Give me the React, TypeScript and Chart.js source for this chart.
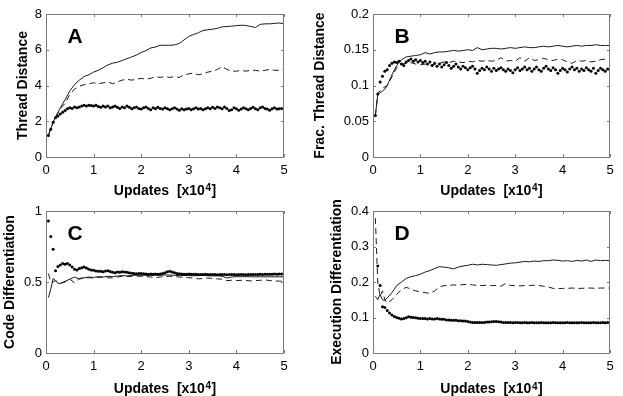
import React, { useEffect, useRef } from "react";
import { Chart, registerables } from "chart.js";

Chart.register(...registerables);

const FONT = "'Liberation Sans', Arial, Helvetica, sans-serif";

// x positions (in units of 10^4 updates)
const LINE_X = [0.05, 0.1, 0.15, 0.2, 0.25, 0.3, 0.4, 0.5, 0.6, 0.7, 0.8, 0.9, 1.0, 1.1, 1.2, 1.3, 1.4, 1.5, 1.6, 1.7, 1.8, 1.9, 2.0, 2.1, 2.2, 2.3, 2.4, 2.5, 2.6, 2.7, 2.8, 2.9, 3.0, 3.1, 3.2, 3.3, 3.4, 3.5, 3.6, 3.7, 3.8, 3.9, 4.0, 4.1, 4.2, 4.3, 4.4, 4.5, 4.6, 4.7, 4.8, 4.9, 5.0];
const DOT_X = [0.05, 0.1, 0.15, 0.2, 0.25, 0.3, 0.35, 0.4, 0.45, 0.5, 0.55, 0.6, 0.65, 0.7, 0.75, 0.8, 0.85, 0.9, 0.95, 1.0, 1.05, 1.1, 1.15, 1.2, 1.25, 1.3, 1.35, 1.4, 1.45, 1.5, 1.55, 1.6, 1.65, 1.7, 1.75, 1.8, 1.85, 1.9, 1.95, 2.0, 2.05, 2.1, 2.15, 2.2, 2.25, 2.3, 2.35, 2.4, 2.45, 2.5, 2.55, 2.6, 2.65, 2.7, 2.75, 2.8, 2.85, 2.9, 2.95, 3.0, 3.05, 3.1, 3.15, 3.2, 3.25, 3.3, 3.35, 3.4, 3.45, 3.5, 3.55, 3.6, 3.65, 3.7, 3.75, 3.8, 3.85, 3.9, 3.95, 4.0, 4.05, 4.1, 4.15, 4.2, 4.25, 4.3, 4.35, 4.4, 4.45, 4.5, 4.55, 4.6, 4.65, 4.7, 4.75, 4.8, 4.85, 4.9, 4.95, 5.0];

const X_TICKS = [0, 1, 2, 3, 4, 5];

// Panel A: Thread Distance
const A_SOLID = [1.2, 1.6, 1.95, 2.25, 2.5, 2.75, 3.2, 3.7, 4.05, 4.3, 4.5, 4.6, 4.75, 4.85, 5.0, 5.15, 5.25, 5.3, 5.4, 5.5, 5.6, 5.7, 5.85, 5.95, 6.1, 6.15, 6.25, 6.25, 6.25, 6.27, 6.35, 6.55, 6.75, 6.85, 6.95, 7.08, 7.12, 7.15, 7.2, 7.28, 7.3, 7.32, 7.35, 7.37, 7.36, 7.3, 7.25, 7.42, 7.45, 7.45, 7.47, 7.5, 7.45];
const A_DASHED = [1.2, 1.6, 1.9, 2.2, 2.45, 2.7, 3.0, 3.5, 3.8, 3.95, 4.05, 4.1, 4.15, 4.1, 4.15, 4.2, 4.1, 4.2, 4.3, 4.35, 4.3, 4.35, 4.4, 4.35, 4.4, 4.5, 4.45, 4.5, 4.45, 4.5, 4.45, 4.6, 4.65, 4.7, 4.6, 4.65, 4.75, 4.8, 4.9, 5.05, 4.9, 4.8, 4.8, 4.85, 4.8, 4.85, 4.85, 4.8, 4.85, 4.9, 4.85, 4.85, 4.9];
const A_DOTS = [1.2, 1.55, 1.95, 2.2, 2.3, 2.4, 2.5, 2.6, 2.7, 2.75, 2.72, 2.8, 2.75, 2.8, 2.85, 2.9, 2.85, 2.9, 2.88, 2.85, 2.9, 2.82, 2.78, 2.85, 2.8, 2.85, 2.75, 2.8, 2.85, 2.78, 2.72, 2.8, 2.75, 2.85, 2.78, 2.7, 2.75, 2.8, 2.72, 2.68, 2.75, 2.8, 2.72, 2.65, 2.75, 2.7, 2.78, 2.72, 2.68, 2.75, 2.7, 2.65, 2.7, 2.75, 2.68, 2.62, 2.7, 2.65, 2.68, 2.72, 2.65, 2.7, 2.75, 2.68, 2.72, 2.65, 2.7, 2.75, 2.7, 2.78, 2.72, 2.8, 2.75, 2.7, 2.8, 2.72, 2.6, 2.65, 2.75, 2.7, 2.62, 2.68, 2.75, 2.7, 2.65, 2.72, 2.78, 2.7, 2.65, 2.75, 2.8, 2.72, 2.68, 2.62, 2.7, 2.75, 2.68, 2.7, 2.72, 2.7];
const A_Y_TICKS = [0, 2, 4, 6, 8];

// Panel B: Frac. Thread Distance
const B_SOLID = [0.058, 0.087, 0.09, 0.092, 0.095, 0.1, 0.115, 0.128, 0.136, 0.14, 0.141, 0.142, 0.143, 0.146, 0.144, 0.146, 0.147, 0.147, 0.148, 0.149, 0.148, 0.149, 0.15, 0.149, 0.153, 0.15, 0.151, 0.152, 0.152, 0.151, 0.152, 0.153, 0.152, 0.153, 0.154, 0.153, 0.153, 0.154, 0.155, 0.154, 0.155, 0.156, 0.155, 0.154, 0.155, 0.156, 0.155, 0.156, 0.156, 0.157, 0.156, 0.156, 0.156];
const B_DASHED = [0.058, 0.088, 0.093, 0.096, 0.098, 0.1, 0.112, 0.125, 0.13, 0.131, 0.132, 0.13, 0.129, 0.13, 0.128, 0.13, 0.131, 0.133, 0.132, 0.134, 0.133, 0.132, 0.134, 0.133, 0.135, 0.134, 0.135, 0.134, 0.135, 0.139, 0.134, 0.135, 0.134, 0.139, 0.134, 0.139, 0.135, 0.136, 0.138, 0.136, 0.135, 0.137, 0.136, 0.133, 0.131, 0.135, 0.134, 0.135, 0.133, 0.134, 0.136, 0.137, 0.137];
const B_DOTS = [0.058, 0.088, 0.105, 0.113, 0.12, 0.122, 0.128, 0.131, 0.133, 0.132, 0.134, 0.13, 0.128, 0.133, 0.135, 0.137, 0.134, 0.136, 0.133, 0.135, 0.132, 0.134, 0.13, 0.133, 0.128, 0.131, 0.127, 0.13, 0.126, 0.129, 0.132, 0.128, 0.124, 0.127, 0.13, 0.126, 0.123, 0.127, 0.125, 0.122, 0.125, 0.127, 0.123, 0.117, 0.121, 0.124, 0.122, 0.126, 0.123, 0.12, 0.124, 0.121, 0.123, 0.125, 0.122, 0.12, 0.123, 0.121, 0.118, 0.122, 0.125, 0.121, 0.123, 0.126, 0.122, 0.124, 0.12, 0.123, 0.126, 0.122, 0.12, 0.124, 0.127, 0.123, 0.121, 0.125, 0.122, 0.117, 0.121, 0.124, 0.122, 0.119, 0.123, 0.126, 0.122, 0.124, 0.12, 0.123, 0.121, 0.125, 0.122, 0.12, 0.124, 0.117, 0.121, 0.124, 0.122, 0.12, 0.123, 0.122];
const B_Y_TICKS = [0, 0.05, 0.1, 0.15, 0.2];

// Panel C: Code Differentiation
const C_SOLID = [0.39, 0.45, 0.525, 0.51, 0.49, 0.49, 0.505, 0.52, 0.535, 0.52, 0.53, 0.535, 0.532, 0.538, 0.535, 0.54, 0.538, 0.542, 0.545, 0.543, 0.546, 0.548, 0.547, 0.548, 0.546, 0.548, 0.547, 0.55, 0.549, 0.547, 0.545, 0.546, 0.545, 0.544, 0.545, 0.546, 0.544, 0.543, 0.544, 0.54, 0.528, 0.535, 0.538, 0.537, 0.538, 0.537, 0.536, 0.537, 0.536, 0.537, 0.536, 0.537, 0.536];
const C_DASHED = [0.56, 0.5, 0.5, 0.51, 0.5, 0.49, 0.5, 0.52, 0.495, 0.525, 0.53, 0.53, 0.528, 0.532, 0.535, 0.53, 0.528, 0.535, 0.54, 0.538, 0.54, 0.542, 0.54, 0.538, 0.535, 0.53, 0.535, 0.538, 0.54, 0.538, 0.535, 0.532, 0.53, 0.528, 0.522, 0.525, 0.528, 0.525, 0.522, 0.52, 0.51, 0.512, 0.51, 0.512, 0.51, 0.508, 0.51, 0.512, 0.515, 0.51, 0.508, 0.506, 0.505];
const C_DOTS = [0.93, 0.82, 0.73, 0.58, 0.61, 0.62, 0.63, 0.625, 0.63, 0.62, 0.605, 0.59, 0.585, 0.595, 0.6, 0.605, 0.598, 0.59, 0.585, 0.582, 0.578, 0.575, 0.575, 0.572, 0.578, 0.58, 0.574, 0.568, 0.565, 0.57, 0.568, 0.572, 0.57, 0.568, 0.565, 0.562, 0.56, 0.558, 0.56, 0.56, 0.558, 0.556, 0.555, 0.556, 0.555, 0.556, 0.554, 0.556, 0.56, 0.566, 0.572, 0.575, 0.57, 0.565, 0.56, 0.558, 0.556, 0.555, 0.555, 0.556, 0.555, 0.554, 0.555, 0.553, 0.552, 0.553, 0.554, 0.553, 0.552, 0.552, 0.553, 0.551, 0.552, 0.553, 0.552, 0.551, 0.552, 0.553, 0.552, 0.551, 0.552, 0.553, 0.552, 0.551, 0.552, 0.553, 0.552, 0.552, 0.553, 0.554, 0.553, 0.554, 0.555, 0.554, 0.555, 0.556, 0.555, 0.556, 0.557, 0.556];
const C_Y_TICKS = [0, 0.5, 1];

// Panel D: Execution Differentiation
const D_SOLID = [0.16, 0.15, 0.165, 0.15, 0.148, 0.155, 0.17, 0.19, 0.2, 0.21, 0.215, 0.218, 0.222, 0.228, 0.232, 0.238, 0.243, 0.242, 0.24, 0.237, 0.242, 0.245, 0.247, 0.25, 0.248, 0.25, 0.249, 0.248, 0.247, 0.249, 0.251, 0.253, 0.254, 0.256, 0.258, 0.257, 0.259, 0.258, 0.26, 0.26, 0.262, 0.261, 0.259, 0.26, 0.258, 0.261, 0.259, 0.262, 0.258, 0.262, 0.26, 0.261, 0.26];
const D_DASHED = [0.38, 0.2, 0.16, 0.175, 0.15, 0.14, 0.15, 0.165, 0.178, 0.185, 0.18, 0.175, 0.172, 0.17, 0.168, 0.175, 0.186, 0.19, 0.19, 0.192, 0.19, 0.193, 0.193, 0.192, 0.19, 0.19, 0.191, 0.19, 0.19, 0.188, 0.196, 0.19, 0.19, 0.189, 0.19, 0.19, 0.191, 0.19, 0.188, 0.186, 0.182, 0.181, 0.182, 0.182, 0.183, 0.182, 0.182, 0.183, 0.183, 0.182, 0.183, 0.183, 0.183];
const D_DOTS = [null, 0.245, 0.19, 0.13, 0.128, 0.12, 0.113, 0.107, 0.103, 0.1, 0.098, 0.096, 0.097, 0.099, 0.102, 0.101, 0.1, 0.099, 0.098, 0.097, 0.097, 0.097, 0.096, 0.097, 0.096, 0.096, 0.097, 0.096, 0.095, 0.095, 0.093, 0.093, 0.092, 0.092, 0.092, 0.091, 0.091, 0.09, 0.09, 0.089, 0.087, 0.086, 0.086, 0.086, 0.086, 0.086, 0.086, 0.087, 0.087, 0.088, 0.089, 0.089, 0.088, 0.087, 0.086, 0.086, 0.086, 0.086, 0.085, 0.086, 0.086, 0.085, 0.085, 0.086, 0.085, 0.085, 0.086, 0.085, 0.085, 0.085, 0.086, 0.085, 0.085, 0.085, 0.085, 0.086, 0.085, 0.085, 0.085, 0.085, 0.085, 0.086, 0.085, 0.085, 0.085, 0.085, 0.085, 0.086, 0.085, 0.085, 0.085, 0.085, 0.086, 0.085, 0.085, 0.085, 0.086, 0.085, 0.086, 0.086];
const D_Y_TICKS = [0, 0.1, 0.2, 0.3, 0.4];

const X_TITLE_MAIN = "Updates  [x10";
const X_TITLE_SUP = "4";
const X_TITLE_END = "]";

type PanelSpec = {
  letter: string;
  yTitle: string;
  yTicks: number[];
  solid: (number | null)[];
  dashed: (number | null)[];
  dots: (number | null)[];
  // layout
  left: number; top: number; w: number; h: number;
  padTop: number; padRight: number;
  yWidth: number; xHeight: number; yTitlePad: number; xTitleDy: number;
};

const PANELS: PanelSpec[] = [
  { letter: "A", yTitle: "Thread Distance", yTicks: A_Y_TICKS, solid: A_SOLID, dashed: A_DASHED, dots: A_DOTS,
    left: 0, top: 0, w: 311, h: 198, padTop: 14, padRight: 27, yWidth: 46, xHeight: 41, yTitlePad: 14.4, xTitleDy: 37.5 },
  { letter: "B", yTitle: "Frac. Thread Distance", yTicks: B_Y_TICKS, solid: B_SOLID, dashed: B_DASHED, dots: B_DOTS,
    left: 311, top: 0, w: 312, h: 198, padTop: 14, padRight: 13, yWidth: 62, xHeight: 41, yTitlePad: 0.6, xTitleDy: 37.5 },
  { letter: "C", yTitle: "Code Differentiation", yTicks: C_Y_TICKS, solid: C_SOLID, dashed: C_DASHED, dots: C_DOTS,
    left: 0, top: 198, w: 311, h: 198, padTop: 13, padRight: 27, yWidth: 46, xHeight: 43, yTitlePad: 1.6, xTitleDy: 39.5 },
  { letter: "D", yTitle: "Execution Differentiation", yTicks: D_Y_TICKS, solid: D_SOLID, dashed: D_DASHED, dots: D_DOTS,
    left: 311, top: 198, w: 312, h: 198, padTop: 13, padRight: 13, yWidth: 62, xHeight: 43, yTitlePad: 17.6, xTitleDy: 40 },
];

const fmt = (v: number | string) => String(parseFloat(Number(v).toFixed(3)));

const framePlugin = {
  id: "frameDecor",
  afterDatasetsDraw(chart: any, _args: any, opts: any) {
    const { ctx, chartArea } = chart;
    const { left, right, top, bottom } = chartArea;
    const xs = chart.scales.x;
    const ys = chart.scales.y;
    ctx.save();
    ctx.strokeStyle = "#7a7a7a";
    ctx.lineWidth = 1;
    ctx.strokeRect(Math.round(left) + 0.5, Math.round(top) + 0.5, Math.round(right - left) - 1, Math.round(bottom - top));
    const tl = 3;
    ctx.beginPath();
    xs.ticks.forEach((t: any) => {
      const px = Math.round(xs.getPixelForValue(t.value)) + 0.5;
      ctx.moveTo(px, bottom); ctx.lineTo(px, bottom - tl);
      ctx.moveTo(px, top); ctx.lineTo(px, top + tl);
    });
    ys.ticks.forEach((t: any) => {
      const py = Math.round(ys.getPixelForValue(t.value)) + 0.5;
      ctx.moveTo(left, py); ctx.lineTo(left + tl, py);
      ctx.moveTo(right, py); ctx.lineTo(right - tl, py);
    });
    ctx.stroke();

    // panel letter
    ctx.fillStyle = "#000";
    ctx.font = `bold 21px ${FONT}`;
    ctx.textAlign = "center";
    ctx.textBaseline = "alphabetic";
    ctx.fillText(opts.letter, left + 29, top + 29);

    // x axis title with superscript
    const base = bottom + opts.xTitleDy;
    ctx.font = `bold 14px ${FONT}`;
    const w1 = ctx.measureText(X_TITLE_MAIN).width;
    const w3 = ctx.measureText(X_TITLE_END).width;
    ctx.font = `bold 10px ${FONT}`;
    const w2 = ctx.measureText(X_TITLE_SUP).width;
    const total = w1 + w2 + w3 + 1;
    let x0 = (left + right) / 2 - total / 2;
    ctx.textAlign = "left";
    ctx.font = `bold 14px ${FONT}`;
    ctx.fillText(X_TITLE_MAIN, x0, base);
    ctx.font = `bold 10px ${FONT}`;
    ctx.fillText(X_TITLE_SUP, x0 + w1 + 0.5, base - 3.5);
    ctx.font = `bold 14px ${FONT}`;
    ctx.fillText(X_TITLE_END, x0 + w1 + w2 + 1, base);
    ctx.restore();
  },
};

function Panel({ spec }: { spec: PanelSpec }) {
  const ref = useRef<HTMLCanvasElement | null>(null);
  useEffect(() => {
    if (!ref.current) return;
    const yMin = spec.yTicks[0];
    const yMax = spec.yTicks[spec.yTicks.length - 1];
    const yStep = spec.yTicks[1] - spec.yTicks[0];
    const line = (arr: (number | null)[]) => LINE_X.map((x, i) => ({ x, y: arr[i] }));
    const chart = new Chart(ref.current, {
      type: "line",
      data: {
        datasets: [
          {
            label: "dots",
            data: DOT_X.map((x, i) => ({ x, y: spec.dots[i] })) as any,
            showLine: false,
            pointRadius: 1.5,
            pointBackgroundColor: "#000",
            pointBorderWidth: 0,
            pointHoverRadius: 0,
          },
          {
            label: "solid",
            data: line(spec.solid) as any,
            borderColor: "#1a1a1a",
            borderWidth: 1,
            pointRadius: 0,
            tension: 0,
          },
          {
            label: "dashed",
            data: line(spec.dashed) as any,
            borderColor: "#1a1a1a",
            borderWidth: 1,
            borderDash: [6, 4],
            pointRadius: 0,
            tension: 0,
          },
        ],
      },
      options: {
        animation: false,
        responsive: false,
        maintainAspectRatio: false,
        devicePixelRatio: 1,
        events: [],
        layout: { padding: { left: 0, top: spec.padTop, right: spec.padRight, bottom: 0 } },
        plugins: {
          legend: { display: false },
          tooltip: { enabled: false },
          frameDecor: { letter: spec.letter, xTitleDy: spec.xTitleDy },
        } as any,
        scales: {
          x: {
            type: "linear",
            min: X_TICKS[0],
            max: X_TICKS[X_TICKS.length - 1],
            grid: { display: false, drawTicks: false },
            border: { display: false },
            ticks: {
              stepSize: X_TICKS[1] - X_TICKS[0],
              padding: 6,
              color: "#000",
              font: { family: FONT, size: 13 },
              maxRotation: 0,
              autoSkip: false,
              callback: (v: any) => fmt(v),
            },
            afterFit: (s: any) => { s.height = spec.xHeight; },
          },
          y: {
            type: "linear",
            min: yMin,
            max: yMax,
            grid: { display: false, drawTicks: false },
            border: { display: false },
            ticks: {
              stepSize: yStep,
              padding: 4,
              color: "#000",
              font: { family: FONT, size: 13 },
              autoSkip: false,
              callback: (v: any) => fmt(v),
            },
            title: {
              display: true,
              text: spec.yTitle,
              color: "#000",
              font: { family: FONT, size: 14, weight: "bold" },
              padding: { top: spec.yTitlePad, bottom: 0 },
            },
            afterFit: (s: any) => { s.width = spec.yWidth; },
          },
        },
      },
      plugins: [framePlugin],
    });
    return () => chart.destroy();
  }, [spec]);
  return (
    <canvas
      ref={ref}
      width={spec.w}
      height={spec.h}
      style={{ position: "absolute", left: spec.left, top: spec.top, width: spec.w, height: spec.h }}
    />
  );
}

export default function App() {
  return (
    <div style={{ position: "fixed", left: 0, top: 0, width: 623, height: 396, background: "#fff", overflow: "hidden" }}>
      {PANELS.map((p) => (
        <Panel key={p.letter} spec={p} />
      ))}
    </div>
  );
}
